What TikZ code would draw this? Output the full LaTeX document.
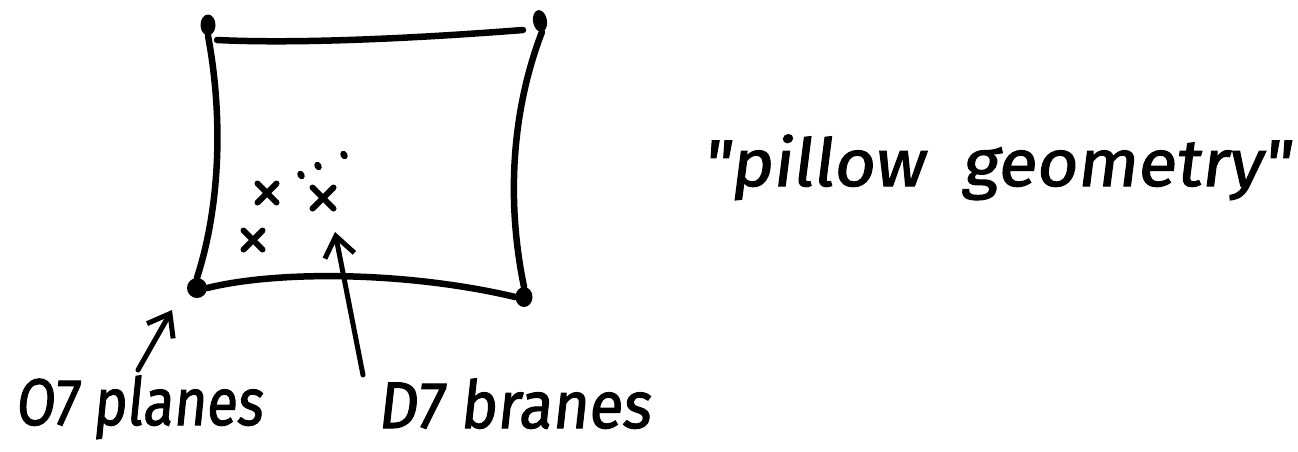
\documentclass[tikz,border=0pt]{standalone}
\usepackage{fontspec}
\newfontfamily\hand[FakeSlant=0.12,FakeBold=1.6]{Fira Sans}
\usetikzlibrary{arrows.meta,shapes.misc,shapes.geometric}
\tikzset{
  ink/.style={line width=6.5pt, line cap=round, line join=round, black},
  corner/.style={ellipse, fill=black, inner sep=0pt},
  xmark/.style={cross out, draw=black, line width=6pt, line cap=round, minimum size=13pt, inner sep=0pt},
  speck/.style={ellipse, fill=black, inner sep=0pt, minimum width=7pt, minimum height=9pt, rotate=30},
  label/.style={anchor=base west, inner sep=0pt, font=\hand\fontsize{66}{70}\selectfont},
  pointer/.style={line width=5pt, line cap=round, -{Straight Barb[length=20pt,width=30pt,line width=5pt]}}
}
\begin{document}
\begin{tikzpicture}[x=1pt,y=-1pt]
\useasboundingbox (0,0) rectangle (1298,451);
% corner dots
\node[corner, minimum width=15pt, minimum height=21pt] (tl) at (208,25) {};
\node[corner, minimum width=14pt, minimum height=22pt, rotate=10] (tr) at (540,21) {};
\node[corner, minimum width=20pt, minimum height=20pt] (bl) at (197,288) {};
\node[corner, minimum width=17pt, minimum height=20pt] (br) at (524,297) {};
% edges
\draw[ink] (217,40) .. controls (300,44) and (420,38) .. (523,30);
\draw[ink] (tl.south) .. controls (222,110) and (222,200) .. (bl.north);
\draw[ink] (tr.south) .. controls (512,110) and (506,200) .. (br.north);
\draw[ink] (bl.east) .. controls (280,270) and (410,272) .. (br.west);
% crosses
\node[xmark] (x1) at (267,193) {};
\node[xmark, minimum size=15pt] (x2) at (323,198) {};
\node[xmark] (x3) at (253,240) {};
% dots
\node[speck] (d1) at (301,175) {};
\node[speck] (d2) at (318,166) {};
\node[speck] (d3) at (344,155) {};
% labels
\node[label] (o7) at (15,425) {\resizebox{247pt}{\height}{O7 planes}};
\node[label] (d7) at (377,428) {\resizebox{273pt}{\height}{D7 branes}};
\node[label] (pg) at (702,186) {\resizebox{588pt}{\height}{\textquotedbl pillow\ \ geometry\textquotedbl}};
% arrows
\coordinate (o7tail) at (138,370);
\coordinate (o7tip) at (172,310);
\coordinate (d7tail) at (363,375);
\coordinate (d7tip) at (335,232);
\draw[pointer] (o7tail) -- (o7tip);
\draw[pointer] (d7tail) -- (d7tip);
\end{tikzpicture}
\end{document}
